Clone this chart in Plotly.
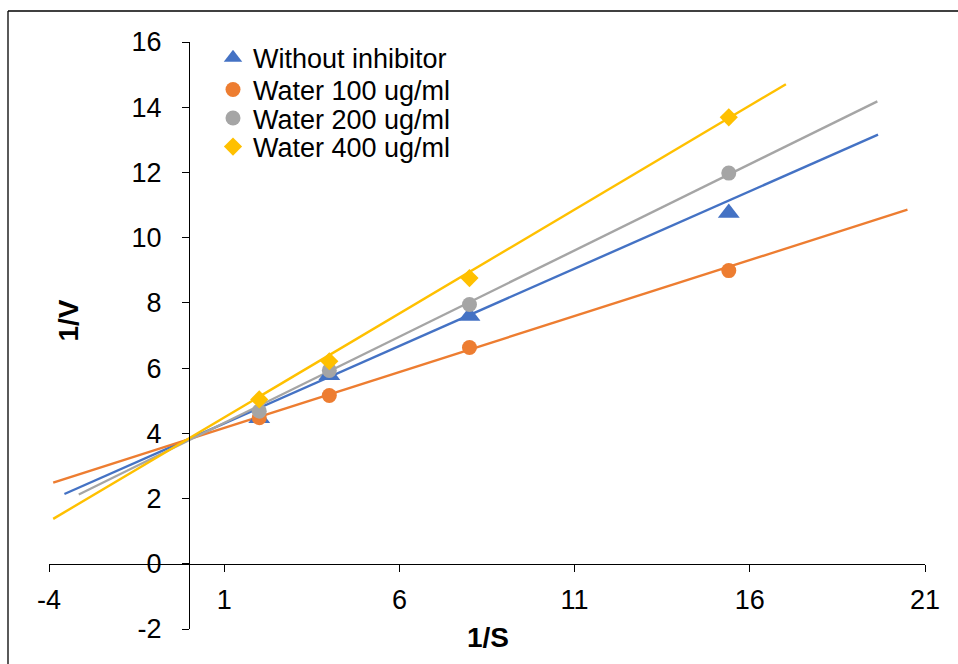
import numpy as np
import plotly.graph_objects as go

# ---- data ----
x_inv_s = [2, 4, 8, 15.4]
series_names = ["Without inhibitor", "Water 100 ug/ml", "Water 200 ug/ml", "Water 400 ug/ml"]
y_without = [4.46, 5.78, 7.60, 10.76]
y_water100 = [4.48, 5.16, 6.63, 8.99]
y_water200 = [4.68, 5.93, 7.95, 11.98]
y_water400 = [5.04, 6.21, 8.76, 13.69]

# linear trendlines (slope, intercept) and their forecast extents
trend_slope = [0.4746, 0.3433, 0.5290, 0.6375]
trend_intercept = [3.83, 3.82, 3.79, 3.85]
trend_x_start = [-3.56, -3.88, -3.15, -3.88]
trend_x_end = [19.66, 20.5, 19.64, 17.03]

x_ticks = [-4, 1, 6, 11, 16, 21]
y_ticks = [-2, 0, 2, 4, 6, 8, 10, 12, 14, 16]

# ---- styles ----
colors = ["#4472C4", "#ED7D31", "#A5A5A5", "#FFC000"]
symbols = ["triangle-up", "circle", "circle", "diamond"]
sizes = [19, 15, 15, 14]
FONT = "Liberation Sans, Arial, sans-serif"

W, H = 958, 664
ML, MR, MT, MB = 49, 33, 42, 35
PW, PH = W - ML - MR, H - MT - MB

ys = [y_without, y_water100, y_water200, y_water400]

fig = go.Figure()

# trendlines first (under markers)
for i in range(4):
    xt = np.array([trend_x_start[i], trend_x_end[i]])
    yt = trend_slope[i] * xt + trend_intercept[i]
    fig.add_trace(go.Scatter(
        x=xt, y=yt, mode="lines",
        line=dict(color=colors[i], width=2.4),
        showlegend=False, hoverinfo="skip",
    ))

legend_rows_px = [58.3, 90.0, 118.5, 147.0]
legend_keys = ["legend", "legend2", "legend3", "legend4"]

for i in range(4):
    fig.add_trace(go.Scatter(
        x=x_inv_s, y=ys[i], mode="markers", name=series_names[i],
        marker=dict(color=colors[i], symbol=symbols[i], size=sizes[i], line=dict(width=0)),
        legend=legend_keys[i],
    ))

def px_to_paper_y(py):
    return (H - MB - py) / PH

def px_to_paper_x(px):
    return (px - ML) / PW

legend_left_px = 213
layout_legends = {}
for i, key in enumerate(legend_keys):
    layout_legends[key] = dict(
        x=px_to_paper_x(legend_left_px), y=px_to_paper_y(legend_rows_px[i]),
        xanchor="left", yanchor="middle",
        bgcolor="rgba(0,0,0,0)", borderwidth=0,
        font=dict(family=FONT, size=27, color="black"),
        itemwidth=30,
    )

fig.update_layout(
    width=W, height=H, autosize=False,
    margin=dict(l=ML, r=MR, t=MT, b=MB, pad=0),
    paper_bgcolor="white", plot_bgcolor="white",
    showlegend=True,
    **layout_legends,
    xaxis=dict(
        range=[-4, 21], tickvals=x_ticks, ticktext=[str(v) for v in x_ticks],
        showgrid=False, zeroline=False, showline=True, linecolor="black", linewidth=1.4,
        ticks="outside", ticklen=7, tickwidth=1.4, tickcolor="black",
        anchor="free", position=2 / 18,
        tickfont=dict(family=FONT, size=27, color="black"),
        ticklabelstandoff=5,
    ),
    yaxis=dict(
        range=[-2, 16], tickvals=y_ticks, ticktext=[str(v) for v in y_ticks],
        showgrid=False, zeroline=False, showline=True, linecolor="black", linewidth=1.4,
        ticks="outside", ticklen=7, tickwidth=1.4, tickcolor="black",
        anchor="free", position=4 / 25,
        tickfont=dict(family=FONT, size=27, color="black"),
        ticklabelstandoff=15,
    ),
    annotations=[
        dict(text="<b>1/V</b>", xref="paper", yref="paper",
             x=px_to_paper_x(67.5), y=px_to_paper_y(321), textangle=-90,
             showarrow=False, xanchor="center", yanchor="middle",
             font=dict(family=FONT, size=28, color="black")),
        dict(text="<b>1/S</b>", xref="paper", yref="paper",
             x=px_to_paper_x(488), y=px_to_paper_y(638),
             showarrow=False, xanchor="center", yanchor="middle",
             font=dict(family=FONT, size=28, color="black")),
    ],
    shapes=[
        dict(type="line", xref="paper", yref="paper",
             x0=px_to_paper_x(8), x1=px_to_paper_x(8),
             y0=px_to_paper_y(11), y1=px_to_paper_y(700),
             line=dict(color="black", width=1.3)),
        dict(type="line", xref="paper", yref="paper",
             x0=px_to_paper_x(8), x1=px_to_paper_x(1000),
             y0=px_to_paper_y(11), y1=px_to_paper_y(11),
             line=dict(color="black", width=1.3)),
    ],
)

fig.write_html("out.html")
